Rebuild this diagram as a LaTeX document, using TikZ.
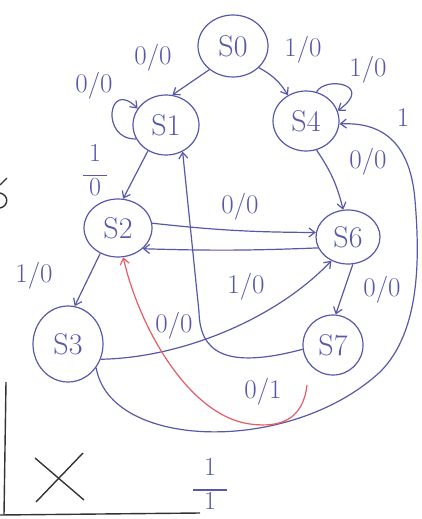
\documentclass[tikz,border=0pt]{standalone}
\usetikzlibrary{shapes.geometric,arrows.meta}
\definecolor{ink}{RGB}{88,88,170}
\definecolor{redink}{RGB}{232,90,100}
\begin{document}
\begin{tikzpicture}[x=1pt,y=-1pt,
  st/.style={ellipse,draw=ink,line width=1.2pt,text=ink,font=\fontsize{30}{32}\selectfont,inner sep=0pt},
  lab/.style={text=ink,font=\fontsize{27}{29}\selectfont,inner sep=1pt},
  frac/.style={text=ink,font=\fontsize{26}{22}\selectfont,align=center,inner sep=1pt},
  tr/.style={draw=ink,line width=1.2pt,-{Straight Barb[length=6pt,width=9pt]}},
  rtr/.style={draw=redink,line width=1.2pt,-{Straight Barb[length=6pt,width=9pt]}},
  blk/.style={draw=black!80,line width=1.4pt}]
\useasboundingbox (0,0) rectangle (422,519);
% states
\node[st,minimum width=70pt,minimum height=62pt] (s0) at (233,46) {S0};
\node[st,minimum width=66pt,minimum height=60pt] (s1) at (166,125) {S1};
\node[st,minimum width=66pt,minimum height=60pt] (s4) at (306,121) {S4};
\node[st,minimum width=68pt,minimum height=58pt] (s2) at (118,228) {S2};
\node[st,minimum width=64pt,minimum height=54pt] (s6) at (348,237) {S6};
\node[st,minimum width=70pt,minimum height=76pt] (s3) at (68,344) {S3};
\node[st,minimum width=60pt,minimum height=60pt] (s7) at (333,345) {S7};
% transitions
\draw[tr] (s0.225) -- (s1.78);
\draw[tr] (s0.-40) to[bend left=15] (s4.125);
\draw[tr] (s1.205) .. controls (100,140) and (108,78) .. (s1.150);
\draw[tr] (s4.70) .. controls (325,76) and (375,84) .. (s4.18);
\draw[tr] (s1.235) -- (s2.80);
\draw[tr] (s4.-70) to[bend left=10] (s6.100);
\draw[tr] (s2.8) to[bend right=3] (s6.172);
\draw[tr] (s6.200) to[bend left=2] (s2.-40);
\draw[tr] (s2.235) -- (s3.80);
\draw[tr] (s3.-25) .. controls (180,358) and (275,320) .. (s6.235);
\draw[tr] (s7.188) .. controls (225,370) and (200,352) .. (199,312) -- (s1.-58);
\draw[tr] (s6.-80) -- (s7.85);
\draw[tr] (s3.-40) .. controls (110,450) and (290,455) .. (380,372)
   .. controls (420,332) and (420,260) .. (415,200)
   .. controls (410,140) and (380,122) .. (s4.-5);
\coordinate (r0) at (307,385);
\draw[rtr] (r0) .. controls (303,420) and (280,428) .. (250,424)
   .. controls (190,416) and (140,330) .. (s2.-80);
% labels
\node[lab] (l01) at (153,58) {0/0};
\node[lab] (l04) at (303,50) {1/0};
\node[lab] (l11) at (94,86) {0/0};
\node[lab] (l44) at (368,70) {1/0};
\node[lab] (l1x) at (403,118) {1};
\node[frac] (l12) at (95,170) {1\\[-7pt]\rule{24pt}{1.2pt}\\[-3pt]0};
\node[lab] (l46) at (368,162) {0/0};
\node[lab] (l26) at (240,207) {0/0};
\node[lab] (l62) at (246,287) {1/0};
\node[lab] (l23) at (34,276) {1/0};
\node[lab] (l36) at (174,326) {0/0};
\node[lab] (l67) at (382,290) {0/0};
\node[lab] (l7r) at (263,392) {0/1};
\node[frac] (l34) at (210,484) {1\\[-7pt]\rule{34pt}{1.2pt}\\[-3pt]1};
% black marks
\draw[blk] (0,185) -- (7,178);
\draw[blk] (0,193) .. controls (9,195) and (9,206) .. (0,208);
\draw[blk] (6,382) -- (4,515);
\draw[blk] (0,515) -- (200,513);
\draw[blk] (35,458) -- (84,500);
\draw[blk] (83,453) -- (36,502);
\end{tikzpicture}
\end{document}
